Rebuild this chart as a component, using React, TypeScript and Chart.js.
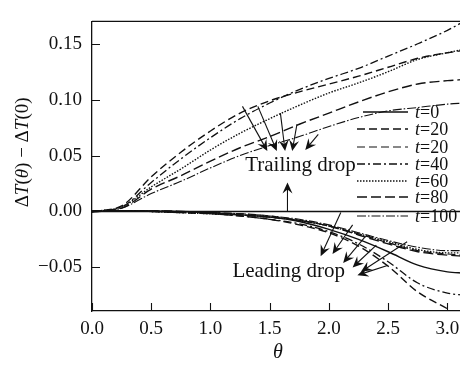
import React, { useEffect, useRef } from "react";
import { Chart, registerables } from "chart.js";

Chart.register(...registerables);

// Angular positions (rad)
const theta = [0, 0.25, 0.5, 0.75, 1.0, 1.25, 1.5, 1.75, 2.0, 2.25, 2.5, 2.75, 3.0, 3.14];

// Trailing-drop temperature differences ΔT(θ) − ΔT(0)
const trailT0 = [0, 0, 0, 0, 0, 0, 0, 0, 0, 0, 0, 0, 0, 0];
const trailT20 = [0, 0.005, 0.031, 0.053, 0.072, 0.088, 0.099, 0.107, 0.114, 0.121, 0.129, 0.137, 0.142, 0.144];
const trailT40 = [0, 0.004, 0.026, 0.047, 0.066, 0.083, 0.097, 0.109, 0.119, 0.128, 0.139, 0.15, 0.162, 0.17];
const trailT60 = [0, 0.004, 0.022, 0.038, 0.055, 0.07, 0.083, 0.095, 0.106, 0.115, 0.125, 0.136, 0.142, 0.145];
const trailT80 = [0, 0.003, 0.02, 0.032, 0.045, 0.057, 0.067, 0.078, 0.088, 0.098, 0.107, 0.114, 0.117, 0.118];
const trailT100 = [0, 0.003, 0.016, 0.027, 0.039, 0.05, 0.059, 0.067, 0.076, 0.084, 0.09, 0.093, 0.096, 0.097];

// Leading-drop temperature differences
const leadT0 = [0, 0.0005, 0.0005, 0, -0.001, -0.003, -0.005, -0.009, -0.016, -0.025, -0.036, -0.048, -0.054, -0.055];
const leadT20 = [0, 0.0005, 0, -0.001, -0.002, -0.004, -0.007, -0.012, -0.019, -0.031, -0.049, -0.072, -0.087, -0.096];
const leadT20b = [0, 0.0005, 0.0005, 0, -0.001, -0.002, -0.004, -0.008, -0.013, -0.02, -0.028, -0.035, -0.038, -0.039];
const leadT40 = [0, 0.0005, 0, -0.001, -0.002, -0.004, -0.007, -0.011, -0.018, -0.029, -0.045, -0.064, -0.073, -0.075];
const leadT60 = [0, 0.0005, 0, -0.001, -0.002, -0.003, -0.005, -0.008, -0.013, -0.02, -0.027, -0.034, -0.037, -0.037];
const leadT80 = [0, 0.0005, 0.0005, 0, -0.001, -0.003, -0.005, -0.008, -0.013, -0.021, -0.029, -0.036, -0.039, -0.04];
const leadT100 = [0, 0.0005, 0.0005, 0, -0.001, -0.002, -0.004, -0.007, -0.012, -0.019, -0.026, -0.032, -0.035, -0.035];

const legendLabels = ["0", "20", "20", "40", "60", "80", "100"];
const xTicks = [0, 0.5, 1.0, 1.5, 2.0, 2.5, 3.0];
const yTicks = [-0.05, 0, 0.05, 0.1, 0.15];

// Line styles per legend entry
const styles = [
  { dash: [] as number[], width: 1.4 },
  { dash: [8, 4], width: 1.4 },
  { dash: [8, 4], width: 1.2 },
  { dash: [8, 3, 2, 3], width: 1.3 },
  { dash: [1.5, 1.5], width: 1.4 },
  { dash: [10, 4], width: 1.4 },
  { dash: [9, 2, 1.5, 2], width: 1.1 },
];

const series: { data: number[]; style: number }[] = [
  { data: trailT0, style: 0 },
  { data: trailT20, style: 1 },
  { data: trailT40, style: 3 },
  { data: trailT60, style: 4 },
  { data: trailT80, style: 5 },
  { data: trailT100, style: 6 },
  { data: leadT0, style: 0 },
  { data: leadT20, style: 1 },
  { data: leadT20b, style: 2 },
  { data: leadT40, style: 3 },
  { data: leadT60, style: 4 },
  { data: leadT80, style: 5 },
  { data: leadT100, style: 6 },
];

// Annotation arrows in data coordinates: [θ1, v1, θ2, v2]
const trailArrows = [
  [1.27, 0.094, 1.48, 0.054],
  [1.4, 0.094, 1.56, 0.054],
  [1.59, 0.088, 1.63, 0.054],
  [1.73, 0.078, 1.69, 0.054],
  [1.91, 0.069, 1.8, 0.055],
];
const leadArrows = [
  [2.1, -0.001, 1.93, -0.04],
  [2.2, -0.012, 2.03, -0.038],
  [2.31, -0.022, 2.12, -0.046],
  [2.4, -0.03, 2.2, -0.05],
  [2.5, -0.048, 2.24, -0.057],
  [2.66, -0.027, 2.27, -0.054],
];

const SERIF = '"Liberation Serif", "DejaVu Serif", serif';
const INK = "#111";

function drawArrow(ctx: CanvasRenderingContext2D, x1: number, y1: number, x2: number, y2: number) {
  const ang = Math.atan2(y2 - y1, x2 - x1);
  const len = 11;
  const half = 5;
  ctx.beginPath();
  ctx.moveTo(x1, y1);
  ctx.lineTo(x2 - Math.cos(ang) * 6, y2 - Math.sin(ang) * 6);
  ctx.stroke();
  const bx = x2 - Math.cos(ang) * len;
  const by = y2 - Math.sin(ang) * len;
  const nx = -Math.sin(ang);
  const ny = Math.cos(ang);
  ctx.beginPath();
  ctx.moveTo(x2, y2);
  ctx.lineTo(bx + nx * half, by + ny * half);
  ctx.lineTo(x2 - Math.cos(ang) * 7, y2 - Math.sin(ang) * 7);
  ctx.lineTo(bx - nx * half, by - ny * half);
  ctx.closePath();
  ctx.fill();
}

// Draw a run of [text, italic] pieces starting at x (left aligned)
function drawRich(ctx: CanvasRenderingContext2D, parts: [string, boolean][], size: number, x: number, y: number) {
  let cx = x;
  for (const [t, it] of parts) {
    ctx.font = `${it ? "italic " : ""}${size}px ${SERIF}`;
    ctx.fillText(t, cx, y);
    cx += ctx.measureText(t).width;
  }
}
function richWidth(ctx: CanvasRenderingContext2D, parts: [string, boolean][], size: number) {
  let w = 0;
  for (const [t, it] of parts) {
    ctx.font = `${it ? "italic " : ""}${size}px ${SERIF}`;
    w += ctx.measureText(t).width;
  }
  return w;
}

const decorations = {
  id: "decorations",
  afterDraw(chart: any) {
    const { ctx, chartArea: a, scales } = chart;
    const xs = scales.x;
    const ys = scales.y;
    ctx.save();
    ctx.strokeStyle = INK;
    ctx.fillStyle = INK;

    // frame top
    ctx.lineWidth = 1.3;
    ctx.beginPath();
    ctx.moveTo(a.left, a.top);
    ctx.lineTo(a.right, a.top);
    ctx.stroke();

    // inward tick marks
    ctx.lineWidth = 1.1;
    ctx.beginPath();
    for (const v of yTicks) {
      const y = Math.round(ys.getPixelForValue(v)) + 0.5;
      ctx.moveTo(a.left, y);
      ctx.lineTo(a.left + 8, y);
    }
    for (const v of xTicks) {
      const x = Math.round(xs.getPixelForValue(v)) + 0.5;
      ctx.moveTo(x, a.bottom);
      ctx.lineTo(x, a.bottom - 8);
    }
    ctx.stroke();

    // arrows
    ctx.lineWidth = 1.1;
    for (const [t1, v1, t2, v2] of [...trailArrows, ...leadArrows]) {
      drawArrow(ctx, xs.getPixelForValue(t1), ys.getPixelForValue(v1), xs.getPixelForValue(t2), ys.getPixelForValue(v2));
    }
    drawArrow(ctx, xs.getPixelForValue(1.65), ys.getPixelForValue(0), xs.getPixelForValue(1.65), ys.getPixelForValue(0.026));

    // annotation text
    ctx.textBaseline = "middle";
    ctx.textAlign = "center";
    ctx.font = `21px ${SERIF}`;
    ctx.fillText("Trailing drop", xs.getPixelForValue(1.76), ys.getPixelForValue(0.041));
    ctx.fillText("Leading drop", xs.getPixelForValue(1.66), ys.getPixelForValue(-0.054));

    // legend
    const rows = [112, 129, 147, 164, 181, 197, 216];
    ctx.textAlign = "left";
    legendLabels.forEach((lab, i) => {
      const st = styles[i];
      ctx.lineWidth = st.width;
      ctx.setLineDash(st.dash);
      ctx.beginPath();
      ctx.moveTo(i === 0 ? 363 : 357, rows[i]);
      ctx.lineTo(408, rows[i]);
      ctx.stroke();
      ctx.setLineDash([]);
      drawRich(ctx, [["t", true], ["=" + lab, false]], 18, 415, rows[i] + 1);
    });

    // axis titles
    ctx.textAlign = "left";
    const xt: [string, boolean][] = [["θ", true]];
    const xw = richWidth(ctx, xt, 20);
    drawRich(ctx, xt, 20, (a.left + a.right) / 2 - xw / 2, 353);

    const yt: [string, boolean][] = [
      ["Δ", false],
      ["T", true],
      ["(", false],
      ["θ", true],
      [")", false],
      [" − Δ", false],
      ["T", true],
      ["(0)", false],
    ];
    ctx.translate(23, a.top + 131);
    ctx.rotate(-Math.PI / 2);
    const yw = richWidth(ctx, yt, 19);
    drawRich(ctx, yt, 19, -yw / 2, 0);
    ctx.restore();
  },
};

export default function App() {
  const ref = useRef<HTMLCanvasElement | null>(null);
  useEffect(() => {
    if (!ref.current) return;
    const datasets = series.map((s) => ({
      data: theta.map((t, i) => ({ x: t, y: s.data[i] })),
      borderColor: INK,
      borderWidth: styles[s.style].width,
      borderDash: styles[s.style].dash,
      pointRadius: 0,
      fill: false,
      cubicInterpolationMode: "monotone" as const,
    }));
    const chart = new Chart(ref.current, {
      type: "line",
      data: { datasets },
      options: {
        responsive: false,
        animation: false,
        devicePixelRatio: 1,
        layout: { padding: { top: 8, right: 36, left: 0, bottom: 0 } },
        plugins: { legend: { display: false }, tooltip: { enabled: false } },
        scales: {
          x: {
            type: "linear",
            min: 0,
            max: 3.14,
            grid: { display: false, drawTicks: false },
            border: { display: true, color: INK, width: 1.3 },
            ticks: {
              color: INK,
              padding: 7,
              font: { family: SERIF, size: 19 },
              callback: (v: any) => Number(v).toFixed(1),
            },
            afterBuildTicks: (s: any) => {
              s.ticks = xTicks.map((v) => ({ value: v }));
            },
            afterFit: (s: any) => {
              s.height = 54;
            },
          },
          y: {
            type: "linear",
            min: -0.089,
            max: 0.17,
            grid: { display: false, drawTicks: false },
            border: { display: true, color: INK, width: 1.3 },
            ticks: {
              color: INK,
              padding: 10,
              font: { family: SERIF, size: 19 },
              callback: (v: any) => {
                const n = Number(v);
                return (n < 0 ? "−" : "") + Math.abs(n).toFixed(2);
              },
            },
            afterBuildTicks: (s: any) => {
              s.ticks = yTicks.map((v) => ({ value: v }));
            },
            afterFit: (s: any) => {
              s.width = 92;
            },
          },
        },
      },
      plugins: [decorations],
    });
    return () => chart.destroy();
  }, []);
  return (
    <div style={{ position: "fixed", left: 0, top: 0, width: 460, height: 365, overflow: "hidden", background: "#fff" }}>
      <canvas ref={ref} width={500} height={365} style={{ display: "block" }} />
    </div>
  );
}
